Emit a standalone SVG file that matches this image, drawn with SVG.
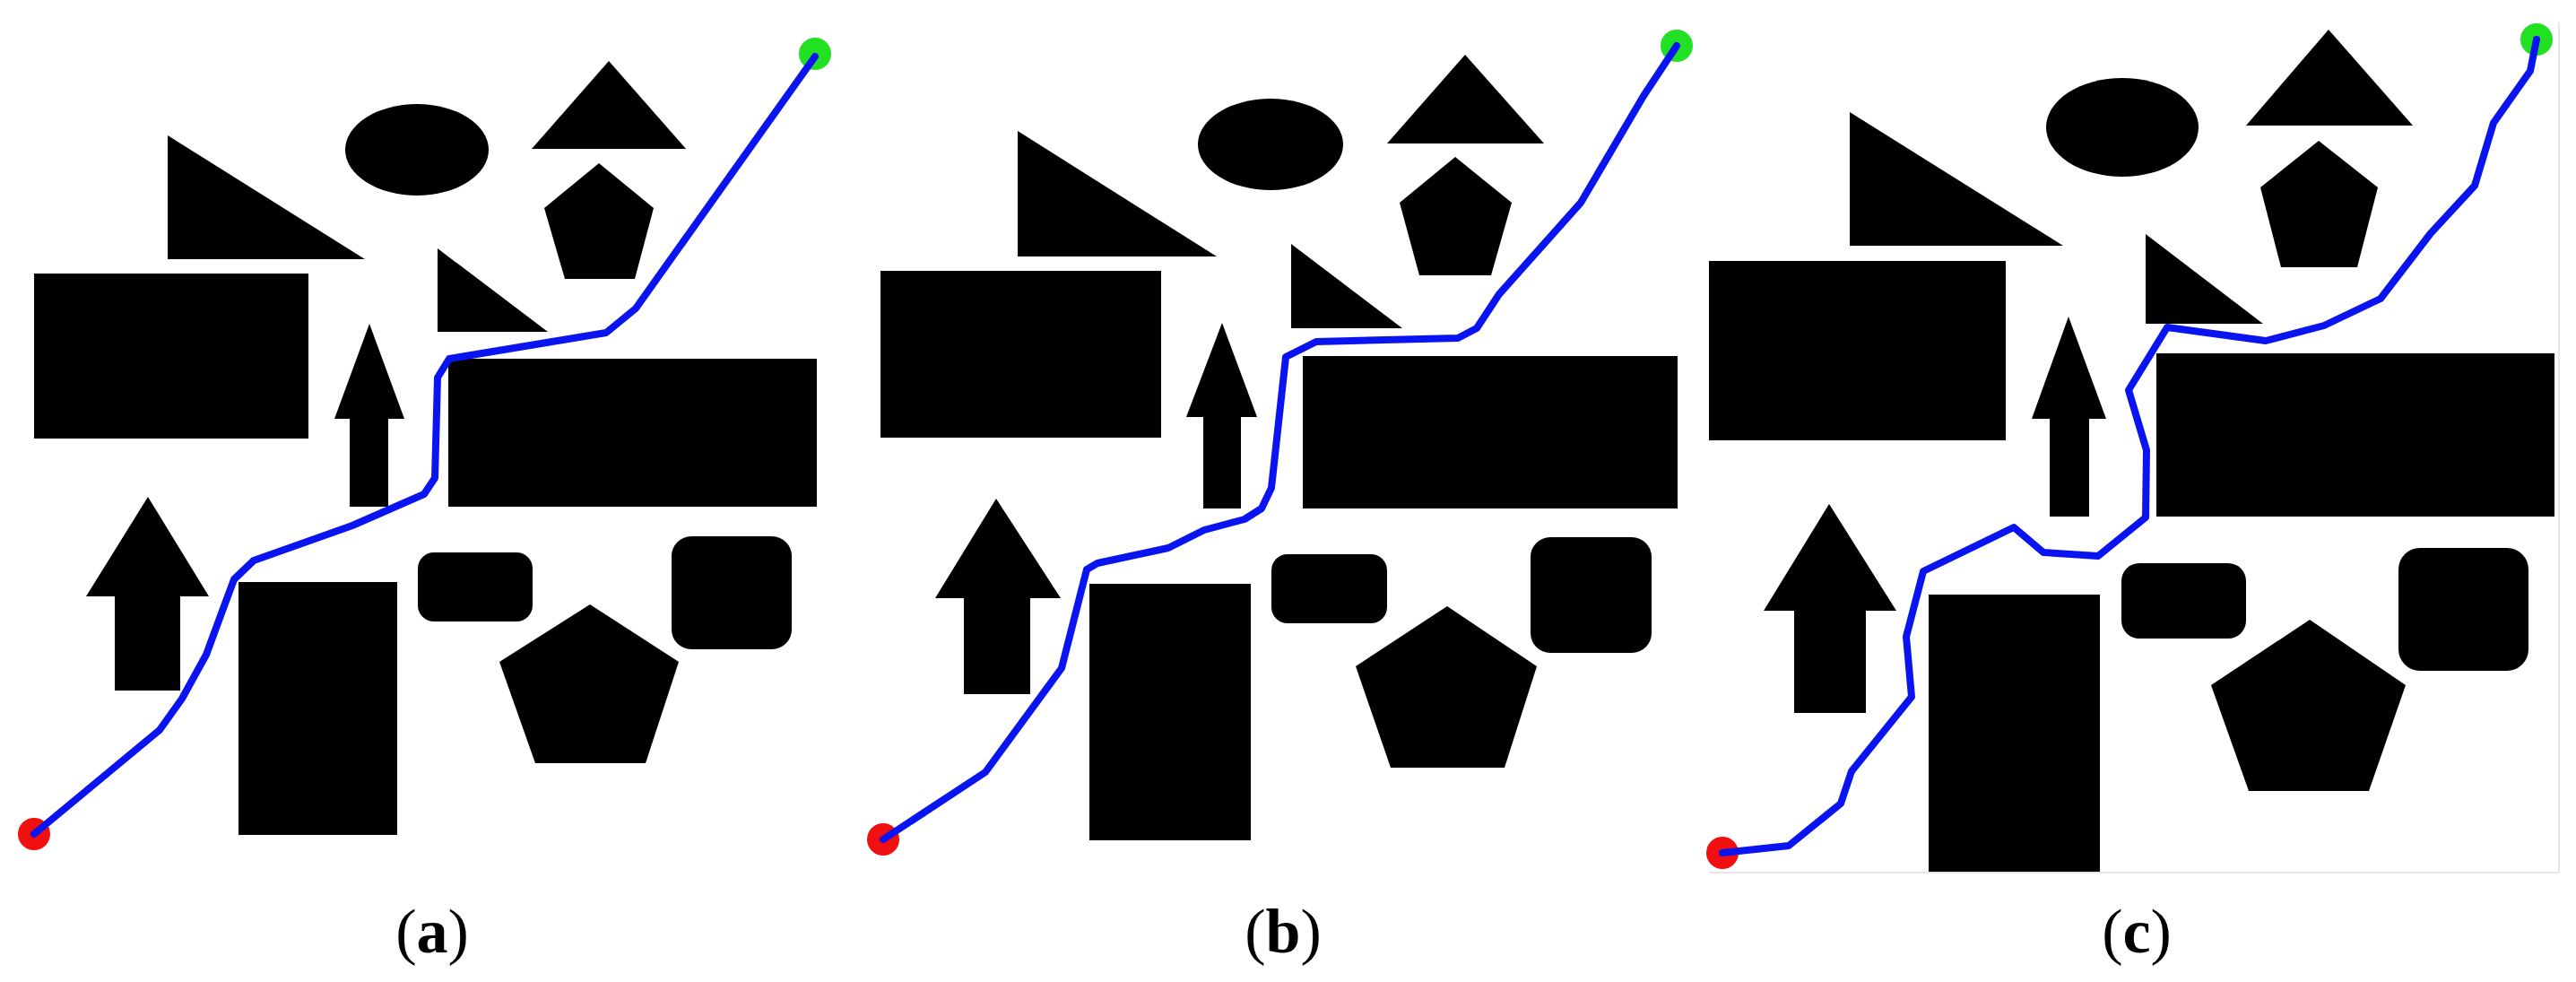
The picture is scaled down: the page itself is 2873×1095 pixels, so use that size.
<svg xmlns="http://www.w3.org/2000/svg" width="2873" height="1095" viewBox="0 0 2873 1095">
<style>
.o{fill:#000}
.p{fill:none;stroke:#0a14f0;stroke-width:8;stroke-linejoin:round;stroke-linecap:round}
.s{fill:#f01010}
.g{fill:#22e022}
.l{font-family:"Liberation Serif",serif;font-size:70px;fill:#000;text-anchor:middle}
</style>
<rect width="2873" height="1095" fill="#fff"/>
<g id="panel-a">
<ellipse class="o" cx="465" cy="167" rx="80" ry="51"/>
<polygon class="o" points="679,68 593,166 765,166"/>
<polygon class="o" points="668,182 729,232 708,311 630,311 607,232"/>
<polygon class="o" points="187,151 187,289 407,289"/>
<rect class="o" x="38" y="305" width="306" height="184"/>
<polygon class="o" points="488,277 488,370 611,370"/>
<polygon class="o" points="412,361 451,467 433,467 433,565 390,565 390,467 373,467"/>
<rect class="o" x="500" y="400" width="411" height="165"/>
<polygon class="o" points="165,554 233,665 201,665 201,770 128,770 128,665 96,665"/>
<rect class="o" x="266" y="649" width="177" height="282"/>
<rect class="o" x="466" y="616" width="128" height="77" rx="18"/>
<rect class="o" x="749" y="598" width="134" height="126" rx="22"/>
<polygon class="o" points="658,674 757,738 720,851 597,851 557,738"/>
</g>
<g id="panel-b">
<ellipse class="o" cx="1417" cy="161" rx="81" ry="51"/>
<polygon class="o" points="1634,61 1547,160 1722,160"/>
<polygon class="o" points="1623,175 1686,226 1663,307 1583,307 1561,226"/>
<polygon class="o" points="1135,146 1135,286 1357,286"/>
<rect class="o" x="982" y="302" width="313" height="186"/>
<polygon class="o" points="1440,272 1440,366 1564,366"/>
<polygon class="o" points="1363,360 1402,465 1384,465 1384,567 1342,567 1342,465 1323,465"/>
<rect class="o" x="1453" y="397" width="418" height="170"/>
<polygon class="o" points="1111,556 1183,667 1149,667 1149,774 1075,774 1075,667 1043,667"/>
<rect class="o" x="1215" y="651" width="180" height="286"/>
<rect class="o" x="1418" y="618" width="129" height="77" rx="18"/>
<rect class="o" x="1707" y="599" width="135" height="129" rx="22"/>
<polygon class="o" points="1614,676 1714,743 1678,856 1551,856 1512,743"/>
</g>
<g id="panel-c">
<path d="M2854,25 V973 H1906" fill="none" stroke="#e6e6e6" stroke-width="2"/>
<ellipse class="o" cx="2367" cy="142" rx="85" ry="55"/>
<polygon class="o" points="2597,33 2505,140 2691,140"/>
<polygon class="o" points="2586,157 2652,209 2629,298 2544,298 2521,209"/>
<polygon class="o" points="2063,125 2063,274 2301,274"/>
<rect class="o" x="1906" y="291" width="331" height="200"/>
<polygon class="o" points="2393,261 2393,361 2524,361"/>
<polygon class="o" points="2307,353 2349,467 2330,467 2330,576 2286,576 2286,467 2266,467"/>
<rect class="o" x="2405" y="394" width="444" height="182"/>
<polygon class="o" points="2040,562 2115,681 2081,681 2081,795 2001,795 2001,681 1967,681"/>
<rect class="o" x="2151" y="663" width="191" height="309"/>
<rect class="o" x="2366" y="628" width="139" height="84" rx="20"/>
<rect class="o" x="2675" y="611" width="145" height="137" rx="24"/>
<polygon class="o" points="2576,691 2683,764 2642,882 2508,882 2466,764"/>
</g>
<g id="connectors">
<circle class="s" cx="38" cy="930" r="18"/>
<circle class="g" cx="909" cy="60" r="18"/>
<polyline class="p" points="38,930 178,814 203,779 230,730 261,646 283,625 393,586 473,551 485,533 488,421 501,400 676,371 709,344 909,63"/>
<circle class="s" cx="985" cy="936" r="18"/>
<circle class="g" cx="1870" cy="51" r="18"/>
<polyline class="p" points="985,936 1099,861 1184,745 1212,635 1224,628 1303,611 1343,591 1388,579 1407,567 1418,544 1434,398 1468,381 1626,377 1647,366 1672,328 1763,226 1833,107 1870,51"/>
<circle class="s" cx="1921" cy="951" r="18"/>
<circle class="g" cx="2829" cy="44" r="18"/>
<polyline class="p" points="1921,951 1995,943 2053,896 2065,860 2132,777 2126,710 2145,637 2246,588 2279,616 2340,620 2393,577 2394,502 2374,435 2417,365 2527,380 2592,363 2655,333 2711,260 2760,207 2781,137 2822,79 2829,44"/>
</g>
<g id="labels">
<text class="l" x="482" y="1062">(<tspan font-weight="bold">a</tspan>)</text>
<text class="l" x="1431" y="1062">(<tspan font-weight="bold">b</tspan>)</text>
<text class="l" x="2383" y="1062">(<tspan font-weight="bold">c</tspan>)</text>
</g>
</svg>
